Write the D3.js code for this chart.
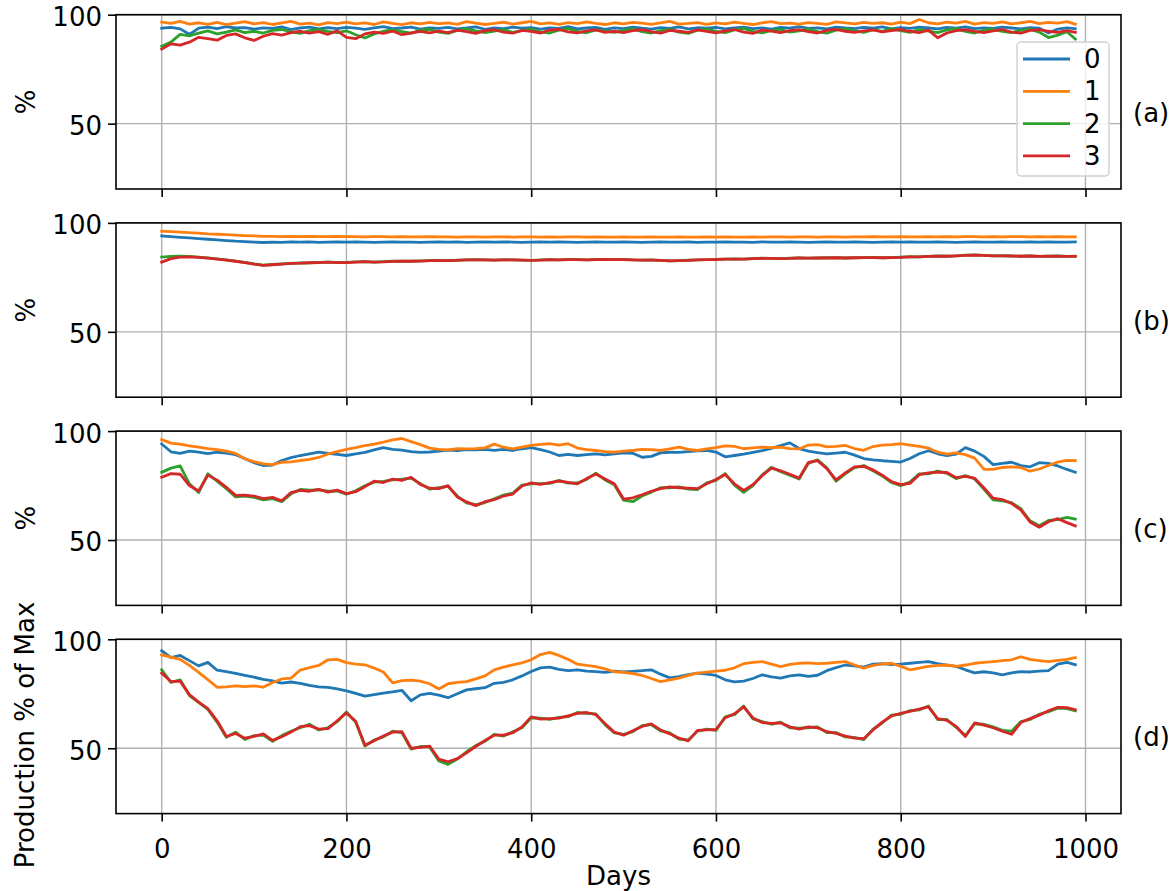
<!DOCTYPE html>
<html lang="en">
<head>
<meta charset="UTF-8" />
<title>Production % of Max</title>
<script src="https://cdn.jsdelivr.net/npm/d3@7"></script>
<style>
  body { margin: 0; background: #fff; }
  text { font-family: "DejaVu Sans", sans-serif; fill: #000; }
</style>
</head>
<body>
<div id="chart"></div>
<script>
// sample days (every 10 days, last sample on day 989)
const DAYS = d3.range(0, 981, 10).concat([989]);
const SERIES_NAMES = ["0", "1", "2", "3"];
const PANEL_TAGS = ["(a)", "(b)", "(c)", "(d)"];
const X_TICKS = [0, 200, 400, 600, 800, 1000];
const Y_TICKS = [50, 100];

// panel (a)
const panelA0 = [93.8,94.2,93.5,91.0,93.8,94.3,93.6,94.5,93.9,94.1, 93.4,94.0,93.7,94.4,93.2,93.9,94.3,93.5,94.1,93.6,
  94.2,93.8,93.3,94.0,94.5,93.6,93.9,94.3,93.4,94.0, 93.7,94.2,93.5,93.9,94.4,93.3,94.0,93.6,94.3,93.8,
  94.1,93.4,94.0,93.7,94.5,93.5,93.9,94.2,93.3,94.0, 93.6,94.3,93.8,93.4,94.1,93.7,94.4,93.5,94.0,93.8,
  94.2,93.5,93.9,94.3,93.6,94.0,93.4,94.2,93.8,94.5, 93.7,94.0,93.5,94.3,93.9,93.6,94.2,93.8,94.4,93.5,
  94.1,93.7,94.3,93.9,93.5,94.2,93.8,94.4,93.6,94.0, 93.7,94.3,93.9,93.5,94.1,93.8,91.6,93.4,94.0,93.6];
const panelA1 = [96.6,96.0,96.9,95.7,96.3,95.6,96.5,95.4,96.1,96.8, 95.8,96.4,95.5,96.2,96.9,95.7,96.1,95.3,96.4,95.9,
  96.6,95.8,96.2,95.5,96.7,96.0,95.4,96.3,95.8,96.5, 95.9,96.2,95.6,96.8,96.1,95.5,96.0,96.6,95.7,96.3,
  96.9,95.8,96.2,95.6,96.4,95.9,96.7,96.0,95.5,96.3, 95.8,96.5,96.1,95.6,96.2,96.9,95.7,96.0,96.4,95.6,
  96.2,95.8,96.6,96.0,95.5,96.3,96.8,95.9,96.1,95.7, 96.4,96.0,95.6,96.7,96.2,95.8,96.5,96.0,96.3,95.7,
  96.6,95.9,97.8,96.3,95.8,96.6,96.1,96.9,95.7,96.4, 96.0,96.7,95.8,96.3,96.9,95.9,96.5,96.1,96.8,95.6];
const panelA2 = [85.5,87.4,91.0,90.3,91.5,92.6,91.2,92.0,93.0,91.8, 92.4,91.6,92.8,93.2,92.1,91.4,92.7,93.1,92.3,91.8,
  92.6,90.8,89.3,91.2,92.4,93.0,92.2,91.5,92.9,93.3, 92.0,91.4,92.8,93.5,92.6,91.8,92.5,93.2,91.9,92.7,
  93.4,92.1,91.6,92.9,93.6,92.3,91.7,93.0,92.5,91.9, 92.8,93.5,92.2,91.6,92.7,93.3,92.0,91.4,92.9,93.4,
  92.3,91.8,93.0,93.6,92.4,91.7,92.8,93.2,92.0,92.6, 93.4,92.2,91.5,92.9,93.5,92.6,91.9,93.1,92.4,93.6,
  92.7,91.9,93.2,92.5,91.8,93.0,93.6,92.3,91.6,92.9, 93.3,92.4,91.8,92.8,93.4,92.0,89.5,90.6,92.2,88.8];
const panelA3 = [84.2,86.6,86.0,87.4,89.6,89.0,88.3,90.5,91.2,89.4, 88.2,90.1,91.3,90.6,91.8,92.4,91.5,92.2,91.0,92.6,
  89.6,89.0,91.2,92.0,91.4,92.5,90.8,91.6,92.3,91.7, 92.5,91.8,92.9,92.2,91.4,92.7,93.1,92.0,91.5,92.8,
  92.3,91.6,92.9,93.2,92.1,91.7,92.6,93.0,91.9,92.4, 91.8,92.7,93.1,92.2,91.5,92.8,92.4,91.9,93.0,92.3,
  91.7,92.6,93.2,92.0,91.4,92.9,92.5,91.8,92.7,93.1, 92.2,91.6,92.8,93.3,92.4,91.9,92.6,93.0,92.1,92.7,
  93.2,92.4,91.8,92.9,89.4,91.6,92.7,93.1,92.3,91.8, 92.6,93.2,92.0,91.5,92.8,93.1,92.4,91.9,92.7,91.9];

// panel (b)
const panelB0 = [94.0,93.7,93.4,93.1,92.8,92.5,92.2,91.9,91.6,91.4, 91.2,91.0,91.2,91.1,91.3,91.2,91.3,91.1,91.2,91.3,
  91.2,91.3,91.2,91.1,91.2,91.3,91.2,91.2,91.1,91.2, 91.3,91.2,91.3,91.1,91.2,91.3,91.2,91.3,91.2,91.1,
  91.2,91.3,91.2,91.3,91.2,91.1,91.2,91.3,91.2,91.2, 91.3,91.2,91.1,91.2,91.3,91.2,91.2,91.3,91.1,91.2,
  91.2,91.3,91.2,91.2,91.1,91.3,91.2,91.2,91.3,91.2, 91.1,91.2,91.3,91.2,91.2,91.3,91.2,91.1,91.2,91.3,
  91.2,91.3,91.2,91.2,91.3,91.2,91.1,91.2,91.3,91.2, 91.2,91.3,91.2,91.2,91.3,91.2,91.3,91.2,91.2,91.3];
const panelB1 = [96.2,96.0,95.8,95.5,95.3,95.0,94.8,94.6,94.4,94.2, 94.0,93.8,93.8,93.7,93.8,93.7,93.8,93.7,93.7,93.8,
  93.7,93.7,93.6,93.7,93.7,93.6,93.7,93.6,93.6,93.7, 93.6,93.6,93.5,93.6,93.6,93.5,93.6,93.6,93.5,93.6,
  93.6,93.5,93.6,93.5,93.6,93.6,93.5,93.6,93.5,93.5, 93.6,93.5,93.5,93.6,93.5,93.5,93.6,93.5,93.5,93.6,
  93.5,93.6,93.5,93.5,93.6,93.5,93.6,93.6,93.5,93.6, 93.6,93.5,93.6,93.6,93.5,93.6,93.6,93.7,93.6,93.6,
  93.7,93.6,93.6,93.7,93.6,93.7,93.6,93.7,93.7,93.6, 93.7,93.6,93.7,93.7,93.6,93.7,93.6,93.7,93.6,93.6];
const panelB2 = [84.3,84.6,84.7,84.6,84.3,83.9,83.5,83.0,82.5,81.9, 81.2,80.6,80.9,81.2,81.4,81.6,81.7,81.9,82.0,81.9,
  81.9,82.1,82.2,82.0,82.2,82.4,82.5,82.4,82.6,82.7, 82.8,82.7,82.9,83.0,83.1,83.0,82.9,83.1,83.0,82.9,
  82.8,83.0,83.1,83.0,83.2,83.1,83.0,83.2,83.3,83.1, 83.2,83.0,82.9,83.0,82.8,82.6,82.7,82.9,83.0,83.1,
  83.3,83.4,83.5,83.4,83.6,83.8,83.7,83.6,83.8,83.9, 83.8,83.9,84.0,84.1,83.9,84.0,84.1,84.2,84.0,84.1,
  84.3,84.5,84.4,84.6,84.8,84.7,84.9,85.2,85.3,85.1, 84.9,85.0,84.8,84.7,84.9,84.6,84.7,84.8,84.6,84.7];
const panelB3 = [82.0,83.6,84.3,84.4,84.2,83.8,83.4,82.9,82.4,81.8, 81.1,80.5,80.8,81.1,81.4,81.5,81.7,81.8,82.0,81.8,
  81.8,82.0,82.2,82.0,82.1,82.3,82.5,82.4,82.5,82.7, 82.7,82.7,82.8,83.0,83.0,83.0,82.9,83.0,83.0,82.9,
  82.8,82.9,83.1,83.0,83.1,83.1,83.0,83.1,83.2,83.1, 83.1,83.0,82.9,82.9,82.8,82.6,82.7,82.8,83.0,83.1,
  83.2,83.4,83.4,83.4,83.6,83.7,83.7,83.6,83.7,83.9, 83.8,83.9,83.9,84.0,83.9,84.0,84.1,84.1,84.0,84.1,
  84.2,84.4,84.4,84.6,84.7,84.7,84.9,85.1,85.2,85.1, 84.9,84.9,84.8,84.7,84.8,84.6,84.7,84.7,84.6,84.6];

// panel (c)
const panelC0 = [94.1,90.5,89.8,90.8,90.3,89.7,90.3,89.9,89.2,87.4, 85.5,84.2,84.4,86.5,87.8,88.8,89.6,90.4,89.8,89.3,
  88.8,89.5,90.2,91.4,92.4,91.6,91.3,90.6,90.2,90.4, 90.8,91.3,91.0,91.5,91.4,91.6,91.2,91.6,91.1,91.9,
  92.4,91.5,90.4,88.8,89.3,88.8,89.2,89.5,89.1,89.5, 90.0,89.8,88.0,88.4,90.0,90.3,90.2,90.6,90.9,91.1,
  90.4,88.2,88.8,89.4,90.2,91.0,92.1,93.4,94.6,92.0, 90.8,90.1,89.5,89.9,90.3,89.0,87.4,86.8,86.4,86.1,
  85.8,87.4,89.6,91.0,89.6,88.8,89.4,92.4,90.8,88.4, 84.6,85.2,85.7,84.2,83.6,85.5,85.2,84.0,82.4,81.1];
const panelC1 = [96.1,94.5,94.0,93.2,92.6,92.0,91.5,90.8,89.8,87.2, 86.0,85.0,84.6,85.7,85.9,86.5,87.0,87.9,89.5,90.6,
  91.6,92.4,93.3,94.0,94.9,96.0,96.6,95.2,93.8,92.2, 91.6,91.4,91.9,91.8,92.0,92.3,94.0,92.6,91.8,92.6,
  93.4,93.9,94.2,93.6,94.2,92.2,91.5,91.1,90.6,90.3, 90.8,91.1,91.6,91.5,91.1,91.8,92.6,91.6,91.1,91.8,
  92.4,93.2,93.0,91.9,92.3,92.6,92.4,92.6,92.0,91.8, 93.6,93.8,92.8,93.0,93.4,92.0,91.2,92.9,93.6,93.8,
  94.2,93.6,93.0,92.2,90.3,89.4,90.0,89.2,87.6,82.5, 82.4,83.3,83.6,83.3,81.6,82.6,84.2,85.8,86.6,86.5];
const panelC2 = [81.1,83.0,84.0,75.8,71.8,80.4,77.0,73.6,69.8,70.2, 69.6,68.4,69.0,67.6,71.2,73.2,72.9,73.0,72.4,72.5,
  71.0,72.6,74.9,76.6,76.9,77.6,77.9,78.4,75.9,73.4, 74.0,74.6,70.2,67.1,66.2,67.2,68.9,70.6,71.5,75.2,
  75.8,75.9,76.0,77.4,76.1,76.2,77.8,80.7,77.6,75.4, 68.3,67.6,70.2,72.0,74.0,74.0,74.4,73.4,73.2,76.2,
  77.4,80.5,75.2,71.9,75.0,79.9,83.4,81.4,79.8,78.0, 85.2,86.8,83.2,77.0,80.4,83.2,84.2,81.8,79.4,76.4,
  75.0,76.6,80.4,80.4,81.6,80.6,78.2,79.6,78.0,73.4, 68.4,68.0,67.2,64.4,58.8,56.6,59.0,59.4,60.4,59.6];
const panelC3 = [78.8,80.5,80.2,75.0,72.5,79.8,77.5,74.2,70.5,70.6, 70.2,69.0,69.6,68.0,71.8,72.8,72.4,73.3,72.0,72.9,
  71.3,72.2,74.5,77.0,76.4,78.0,77.4,78.8,75.5,73.8, 73.6,75.0,69.8,67.5,65.8,67.6,68.5,70.2,71.1,74.8,
  76.2,75.5,76.4,77.0,76.5,75.8,78.2,80.3,78.0,75.8, 68.8,69.4,70.8,72.4,73.6,74.4,74.0,73.8,73.6,75.8,
  77.8,80.1,75.8,72.8,75.4,79.5,83.0,81.8,80.2,78.4, 85.6,86.4,82.8,77.6,80.8,83.6,83.8,82.2,79.8,76.8,
  75.4,76.0,80.0,80.8,81.2,81.0,78.6,79.2,78.4,74.0, 69.2,68.6,66.8,63.8,58.3,55.9,58.4,59.8,58.0,56.5];

// panel (d)
const panelD0 = [94.8,91.6,92.6,90.2,87.8,89.4,85.8,85.2,84.4,83.4, 82.6,81.6,80.9,79.9,80.4,79.8,78.9,78.2,77.9,77.2,
  76.3,75.2,73.9,74.6,75.3,75.9,76.6,71.8,74.5,75.2, 74.4,73.2,75.0,76.8,77.3,77.8,79.8,80.2,81.4,83.2,
  85.2,86.9,87.2,86.2,85.6,86.0,85.4,85.2,84.8,85.4, 85.0,85.3,85.6,86.0,84.0,82.3,82.9,83.8,84.5,84.0,
  83.4,81.4,80.5,80.8,82.0,83.7,82.8,82.2,83.2,83.7, 83.0,83.5,85.6,87.0,88.2,87.8,87.2,88.6,88.8,88.4,
  88.6,89.0,89.4,89.8,88.8,88.1,87.6,86.0,84.6,85.1, 84.6,83.7,84.6,85.2,85.0,85.4,85.6,88.6,89.4,88.3];
const panelD1 = [92.8,91.8,90.8,88.0,84.8,81.5,78.0,78.2,78.6,78.3, 78.6,78.0,80.2,81.8,82.2,85.9,87.0,88.0,90.6,90.8,
  89.3,88.6,88.3,86.8,85.0,80.0,81.0,81.3,80.8,79.6, 77.2,79.6,80.2,80.6,81.8,83.2,86.0,87.2,88.3,89.2,
  90.6,93.0,94.0,92.6,90.8,88.6,88.0,87.5,86.4,85.1, 84.8,84.3,83.4,82.0,80.6,81.4,82.2,83.4,84.5,84.9,
  85.4,85.8,86.9,88.8,89.4,89.8,88.6,87.5,88.5,89.0, 89.2,88.8,89.0,89.4,89.8,88.2,86.8,88.0,88.6,89.0,
  87.6,86.0,86.8,87.6,88.0,88.2,87.6,88.2,89.0,89.4, 89.8,90.2,90.6,92.0,90.8,90.2,89.8,90.3,90.8,91.6];
const panelD2 = [86.0,80.2,81.4,74.2,71.0,67.8,62.0,55.0,57.4,54.0, 55.8,56.0,53.2,55.8,57.8,59.4,61.0,58.4,59.4,62.2,
  66.6,62.0,51.0,53.8,55.2,57.8,57.2,49.6,50.8,50.6, 44.2,42.6,45.0,48.4,51.2,53.2,56.4,55.6,57.5,59.4,
  64.0,63.8,63.2,64.2,64.5,66.4,66.0,65.8,60.8,57.0, 56.4,57.6,60.4,60.8,58.0,57.0,54.2,53.8,57.8,58.8,
  58.2,64.4,65.4,69.4,63.5,62.2,61.0,62.0,59.4,59.2, 59.4,59.8,57.2,57.2,55.2,55.0,54.0,58.8,61.6,65.2,
  65.6,67.3,67.6,69.4,63.2,63.2,59.6,55.8,61.2,61.0, 59.8,58.2,57.8,62.2,63.2,65.6,66.8,68.4,68.2,67.2];
const panelD3 = [84.5,80.6,80.8,74.6,71.2,68.2,62.6,55.4,56.8,54.6, 55.4,56.6,53.6,55.3,57.4,59.9,60.4,58.8,59.0,62.6,
  66.2,62.4,51.4,53.4,55.6,57.4,57.6,50.0,50.4,51.0, 45.0,43.8,45.2,47.9,50.8,53.6,56.0,56.0,57.1,59.8,
  64.4,63.4,63.6,63.8,64.9,66.0,66.4,65.4,61.2,57.4, 56.0,58.0,60.0,61.2,58.4,56.6,54.6,53.4,58.2,58.4,
  58.6,64.0,65.8,69.0,63.9,61.8,61.4,61.6,59.8,58.8, 59.8,59.4,57.6,56.8,55.6,54.6,54.4,58.4,62.0,64.8,
  66.0,66.9,68.0,69.0,63.6,62.8,60.0,55.4,61.6,60.6, 59.4,57.8,56.4,61.8,63.6,65.2,67.2,68.8,68.6,67.7];

const panels = [
  [panelA0, panelA1, panelA2, panelA3],
  [panelB0, panelB1, panelB2, panelB3],
  [panelC0, panelC1, panelC2, panelC3],
  [panelD0, panelD1, panelD2, panelD3]
];
const yLabels = ["%", "%", "%", "Production % of Max"];

const W = 1174, H = 891;
const left = 116, right = 1121;
const panelTop0 = 14.7, panelStep = 208.2, panelH = 174.3;
const colors = ["#1f77b4", "#ff7f0e", "#2ca02c", "#d62728"];
const FS = 26;

const svg = d3.select("#chart").append("svg")
  .attr("width", W).attr("height", H)
  .style("display", "block");

svg.append("rect").attr("width", W).attr("height", H).attr("fill", "#fff");

const x = d3.scaleLinear().domain([-49.45, 1038.45]).range([left, right]);

panels.forEach((series, p) => {
  const top = panelTop0 + p * panelStep;
  const bottom = top + panelH;
  const y = d3.scaleLinear().domain([20, 100]).range([bottom, top]);
  const g = svg.append("g");

  // grid
  g.selectAll(".vgrid").data(X_TICKS).enter().append("line")
    .attr("x1", d => x(d)).attr("x2", d => x(d))
    .attr("y1", top).attr("y2", bottom)
    .attr("stroke", "#b0b0b0").attr("stroke-width", 1.4);
  g.selectAll(".hgrid").data(Y_TICKS).enter().append("line")
    .attr("x1", left).attr("x2", right)
    .attr("y1", d => y(d)).attr("y2", d => y(d))
    .attr("stroke", "#b0b0b0").attr("stroke-width", 1.4);

  // lines
  const line = d3.line()
    .x((d, i) => x(DAYS[i]))
    .y(d => y(d));
  series.forEach((s, k) => {
    g.append("path")
      .datum(s)
      .attr("d", line)
      .attr("fill", "none")
      .attr("stroke", colors[k])
      .attr("stroke-width", 2.8)
      .attr("stroke-linejoin", "round")
      .attr("stroke-linecap", "square");
  });

  // axes
  const yAxis = d3.axisLeft(y).tickValues(Y_TICKS).tickSize(8).tickPadding(6);
  const gy = g.append("g").attr("transform", `translate(${left},0)`).call(yAxis);
  gy.selectAll(".tick text").attr("dy", "0.42em");
  const xAxis = d3.axisBottom(x).tickValues(X_TICKS).tickSize(8).tickPadding(18)
    .tickFormat(p === 3 ? d3.format("d") : () => "");
  const gx = g.append("g").attr("transform", `translate(0,${bottom})`).call(xAxis);
  [gy, gx].forEach(a => {
    a.select(".domain").remove();
    a.selectAll(".tick line").attr("stroke", "#000").attr("stroke-width", 1.6);
    a.selectAll(".tick text").attr("font-size", FS)
      .attr("font-family", "'DejaVu Sans', sans-serif").attr("fill", "#000");
  });

  // frame
  g.append("rect")
    .attr("x", left).attr("y", top)
    .attr("width", right - left).attr("height", panelH)
    .attr("fill", "none").attr("stroke", "#000").attr("stroke-width", 1.6);

  // y label
  const ly = p === 3 ? 735 : (top + bottom) / 2;
  g.append("text")
    .attr("transform", `translate(${p === 3 ? 34 : 35},${ly}) rotate(-90)`)
    .attr("text-anchor", "middle")
    .attr("font-size", FS)
    .text(yLabels[p]);

  // panel tag
  g.append("text")
    .attr("x", 1133).attr("y", y(50) - 2)
    .attr("font-size", FS)
    .text(PANEL_TAGS[p]);

  if (p === 3) {
    svg.append("text")
      .attr("x", (left + right) / 2).attr("y", 885)
      .attr("text-anchor", "middle")
      .attr("font-size", FS)
      .text("Days");
  }
});

// legend (panel a)
const legend = svg.append("g");
legend.append("rect")
  .attr("x", 1017).attr("y", 42).attr("width", 92).attr("height", 134)
  .attr("rx", 4)
  .attr("fill", "#fff").attr("fill-opacity", 0.8)
  .attr("stroke", "#d0d0d0").attr("stroke-width", 1.4);
SERIES_NAMES.forEach((name, k) => {
  const ly = 59 + k * 32.3;
  legend.append("line")
    .attr("x1", 1023).attr("x2", 1070)
    .attr("y1", ly).attr("y2", ly)
    .attr("stroke", colors[k]).attr("stroke-width", 2.8);
  legend.append("text")
    .attr("x", 1084).attr("y", ly + 9)
    .attr("font-size", FS)
    .text(name);
});
</script>
</body>
</html>
